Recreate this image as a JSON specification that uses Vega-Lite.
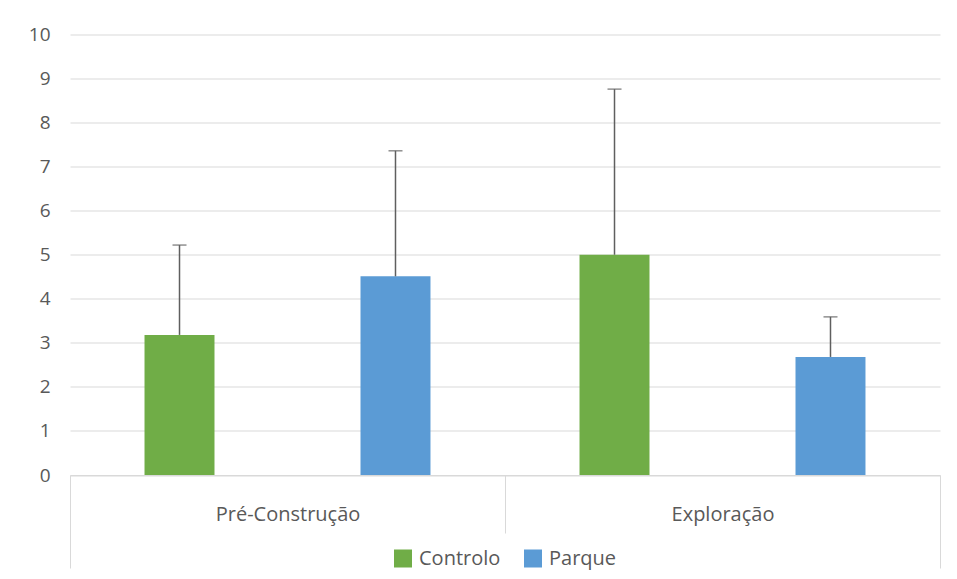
{
  "$schema": "https://vega.github.io/schema/vega-lite/v6.json",
  "width": 870,
  "height": 440.5,
  "autosize": {"type": "none"},
  "padding": {"left": 70, "top": 34.5, "right": 17, "bottom": 104},
  "background": "white",
  "data": {
    "values": [
      {"period": "Pré-Construção", "series": "Controlo", "value": 3.18, "upper": 5.22},
      {"period": "Pré-Construção", "series": "Parque", "value": 4.51, "upper": 7.36},
      {"period": "Exploração", "series": "Controlo", "value": 5.0, "upper": 8.76},
      {"period": "Exploração", "series": "Parque", "value": 2.68, "upper": 3.59}
    ]
  },
  "encoding": {
    "x": {
      "field": "period",
      "type": "nominal",
      "sort": ["Pré-Construção", "Exploração"],
      "scale": {"paddingInner": 0, "paddingOuter": 0},
      "axis": {
        "title": null,
        "labelAngle": 0,
        "labelFont": "Open Sans",
        "labelFontSize": 20,
        "labelColor": "#595959",
        "labelBaseline": "top",
        "labelPadding": {"condition": {"test": "datum.index !== 0", "value": -64}, "value": -29},
        "tickBand": "extent",
        "tickSize": {"condition": {"test": "datum.index !== 0", "value": 93}, "value": 58},
        "tickColor": "#d9d9d9",
        "tickWidth": 1,
        "domainColor": "#d9d9d9",
        "domainWidth": 1,
        "grid": false
      }
    },
    "xOffset": {
      "field": "series",
      "type": "nominal",
      "sort": ["Controlo", "Parque"],
      "scale": {"paddingInner": 0.676, "paddingOuter": 0.345}
    }
  },
  "layer": [
    {
      "mark": {"type": "bar"},
      "encoding": {
        "y": {
          "field": "value",
          "type": "quantitative",
          "scale": {"domain": [0, 10]},
          "axis": {
            "title": null,
            "values": [0, 1, 2, 3, 4, 5, 6, 7, 8, 9, 10],
            "labelFont": "Open Sans",
            "labelFontSize": 19,
            "labelColor": "#595959",
            "labelPadding": 20,
            "ticks": false,
            "domain": false,
            "grid": true,
            "gridColor": "#d9d9d9",
            "gridWidth": 1
          }
        },
        "color": {
          "field": "series",
          "type": "nominal",
          "sort": ["Controlo", "Parque"],
          "scale": {"domain": ["Controlo", "Parque"], "range": ["#70AD47", "#5B9BD5"]},
          "legend": {
            "title": null,
            "orient": "none",
            "direction": "horizontal",
            "legendX": 323,
            "legendY": 514,
            "symbolType": "square",
            "symbolSize": 324,
            "symbolStrokeWidth": 0,
            "labelFont": "Open Sans",
            "labelFontSize": 20,
            "labelColor": "#595959",
            "labelOffset": 6,
            "columnPadding": 22
          }
        }
      }
    },
    {
      "mark": {"type": "rule", "color": "#5f5f5f", "strokeWidth": 1.5},
      "encoding": {
        "y": {"field": "value", "type": "quantitative"},
        "y2": {"field": "upper"}
      }
    },
    {
      "mark": {"type": "tick", "color": "#5f5f5f", "thickness": 1.5, "size": 14, "orient": "horizontal"},
      "encoding": {
        "y": {"field": "upper", "type": "quantitative"}
      }
    }
  ],
  "config": {
    "view": {"stroke": null},
    "font": "Open Sans"
  }
}
